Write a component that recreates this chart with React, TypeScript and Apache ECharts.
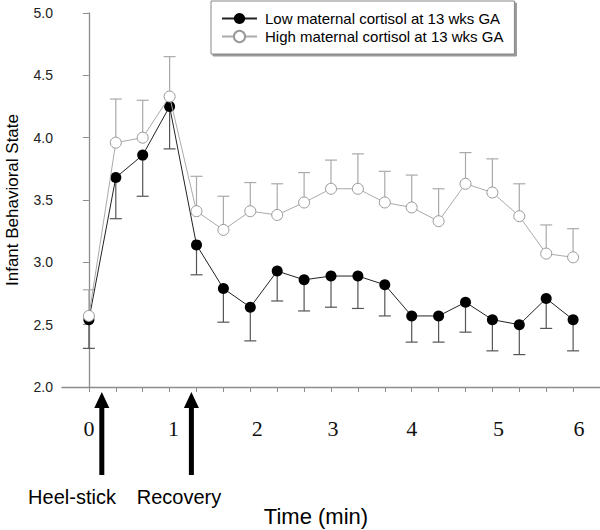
import React, { useEffect, useRef } from "react";
import * as echarts from "echarts";

// Time steps (each step = 20 s, i.e. 1/3 min)
const timeSteps = [0, 1, 2, 3, 4, 5, 6, 7, 8, 9, 10, 11, 12, 13, 14, 15, 16, 17, 18];
const minuteTickSteps = [0, 3, 6, 9, 12, 15, 18];
const minuteLabels = ["0", "1", "2", "3", "4", "5", "6"];

const lowName = "Low maternal cortisol at 13 wks GA";
const highName = "High maternal cortisol at 13 wks GA";

const lowMean = [2.54, 3.68, 3.86, 4.25, 3.14, 2.79, 2.64, 2.93, 2.86, 2.89, 2.89, 2.82, 2.57, 2.57, 2.68, 2.54, 2.5, 2.71, 2.54];
const lowSE = [0.23, 0.33, 0.33, 0.34, 0.24, 0.27, 0.27, 0.24, 0.25, 0.25, 0.26, 0.25, 0.21, 0.21, 0.24, 0.25, 0.24, 0.24, 0.25];

const highMean = [2.57, 3.96, 4.0, 4.33, 3.41, 3.26, 3.41, 3.38, 3.48, 3.59, 3.59, 3.48, 3.44, 3.33, 3.63, 3.56, 3.37, 3.07, 3.04];
const highSE = [0.21, 0.35, 0.3, 0.32, 0.28, 0.27, 0.23, 0.25, 0.24, 0.23, 0.28, 0.25, 0.26, 0.26, 0.25, 0.27, 0.26, 0.23, 0.23];

const yTicks = [2.0, 2.5, 3.0, 3.5, 4.0, 4.5, 5.0];

// Event arrows (in time steps)
const eventNames = ["Heel-stick", "Recovery"];
const eventSteps = [0.48, 3.81];

// style-only nudges for minute labels (px)
const labelNudge = [0, 8, 14, 4, 0, 12, 12];

const SANS = "'Liberation Sans', Arial, sans-serif";
const SERIF = "'Liberation Serif', 'Times New Roman', serif";

export default function App() {
  const ref = useRef<HTMLDivElement>(null);
  useEffect(() => {
    if (!ref.current) return;
    const chart = echarts.init(ref.current, null, { renderer: "svg" });

    const errRender = (dir: number, color: string) => (params: any, api: any) => {
      const x = api.value(0);
      const y = api.value(1);
      const e = api.value(2);
      const p0 = api.coord([x, y]);
      const p1 = api.coord([x, y + dir * e]);
      return {
        type: "group",
        children: [
          { type: "line", shape: { x1: p0[0], y1: p0[1], x2: p1[0], y2: p1[1] }, style: { stroke: color, lineWidth: 1.2 } },
          { type: "line", shape: { x1: p1[0] - 6, y1: p1[1], x2: p1[0] + 6, y2: p1[1] }, style: { stroke: color, lineWidth: 1.2 } },
        ],
      };
    };

    const rich: any = {};
    minuteLabels.forEach((_, k) => {
      rich["n" + k] = {
        fontFamily: SERIF,
        fontSize: 22,
        color: "#111",
        padding: [0, 0, 0, labelNudge[k]],
      };
    });

    const option: any = {
      animation: false,
      backgroundColor: "#fff",
      grid: { left: 62, right: 0, top: 13, bottom: 143, containLabel: false },
      legend: {
        orient: "vertical",
        left: 211,
        top: 1,
        data: [lowName, highName],
        itemWidth: 35,
        itemHeight: 14,
        itemGap: 3,
        padding: [10, 11, 10, 10],
        backgroundColor: "#fff",
        borderColor: "#888",
        borderWidth: 1,
        borderRadius: 0,
        shadowColor: "#9a9a9a",
        shadowOffsetX: 2,
        shadowOffsetY: 2,
        shadowBlur: 0,
        textStyle: { fontFamily: SANS, fontSize: 15, color: "#000", lineHeight: 15, padding: [0, 0, 0, 3] },
      },
      xAxis: {
        type: "value",
        min: -1,
        max: 19,
        interval: 1,
        splitLine: { show: false },
        axisLine: { lineStyle: { color: "#8c8c8c", width: 1.3 } },
        axisTick: { customValues: timeSteps, length: 5, lineStyle: { color: "#8c8c8c" } },
        axisLabel: {
          customValues: minuteTickSteps,
          margin: 30,
          formatter: (v: number) => {
            const k = minuteTickSteps.indexOf(v);
            return k >= 0 ? `{n${k}|${minuteLabels[k]}}` : "";
          },
          rich,
        },
      },
      yAxis: {
        type: "value",
        min: 2,
        max: 5,
        interval: 0.5,
        splitLine: { show: false },
        axisLine: { show: true, lineStyle: { color: "#8c8c8c", width: 1.3 } },
        axisTick: { show: true, length: 6, customValues: yTicks, lineStyle: { color: "#8c8c8c" } },
        axisLabel: {
          margin: 9,
          fontFamily: SANS,
          fontSize: 14,
          color: "#222",
          formatter: (v: number) => v.toFixed(1),
        },
      },
      series: [
        {
          type: "custom",
          name: "lowErr",
          renderItem: errRender(-1, "#555"),
          data: timeSteps.map((t, i) => [t, lowMean[i], lowSE[i]]),
          z: 1,
          silent: true,
        },
        {
          type: "custom",
          name: "highErr",
          renderItem: errRender(1, "#aaa"),
          data: timeSteps.map((t, i) => [t, highMean[i], highSE[i]]),
          z: 1,
          silent: true,
        },
        {
          type: "line",
          name: lowName,
          data: timeSteps.map((t, i) => [t, lowMean[i]]),
          symbol: "circle",
          symbolSize: 11,
          lineStyle: { color: "#222", width: 1 },
          itemStyle: { color: "#000", borderColor: "#000", borderWidth: 0 },
          z: 3,
        },
        {
          type: "line",
          name: highName,
          data: timeSteps.map((t, i) => [t, highMean[i]]),
          symbol: "circle",
          symbolSize: 11,
          lineStyle: { color: "#aaa", width: 1 },
          itemStyle: { color: "#fff", borderColor: "#999", borderWidth: 1 },
          z: 4,
        },
      ],
    };
    chart.setOption(option);

    const arrows: any[] = [];
    eventSteps.forEach((s) => {
      const px = chart.convertToPixel({ xAxisIndex: 0 }, s) as number;
      arrows.push({
        type: "polygon",
        shape: { points: [[px - 7.5, 408], [px, 392], [px + 7.5, 408]] },
        style: { fill: "#000" },
      });
      arrows.push({
        type: "rect",
        shape: { x: px - 2.5, y: 406, width: 5, height: 69 },
        style: { fill: "#000" },
      });
    });
    const labelX = [72, 179];
    eventNames.forEach((n, i) => {
      arrows.push({
        type: "text",
        x: labelX[i],
        y: 497,
        style: { text: n, font: `20px ${SANS}`, fill: "#000", textAlign: "center", textVerticalAlign: "middle", align: "center", verticalAlign: "middle" },
      });
    });
    arrows.push({
      type: "text",
      x: 316,
      y: 516,
      style: { text: "Time (min)", font: `22px ${SANS}`, fill: "#000", textAlign: "center", textVerticalAlign: "middle", align: "center", verticalAlign: "middle" },
    });
    arrows.push({
      type: "text",
      x: 12,
      y: 200,
      rotation: Math.PI / 2,
      style: { text: "Infant Behavioral State", font: `17px ${SANS}`, fill: "#000", textAlign: "center", textVerticalAlign: "middle", align: "center", verticalAlign: "middle" },
    });
    chart.setOption({ graphic: { elements: arrows } });

    return () => chart.dispose();
  }, []);
  return <div ref={ref} style={{ position: "fixed", left: 0, top: 0, width: 600, height: 530 }} />;
}
